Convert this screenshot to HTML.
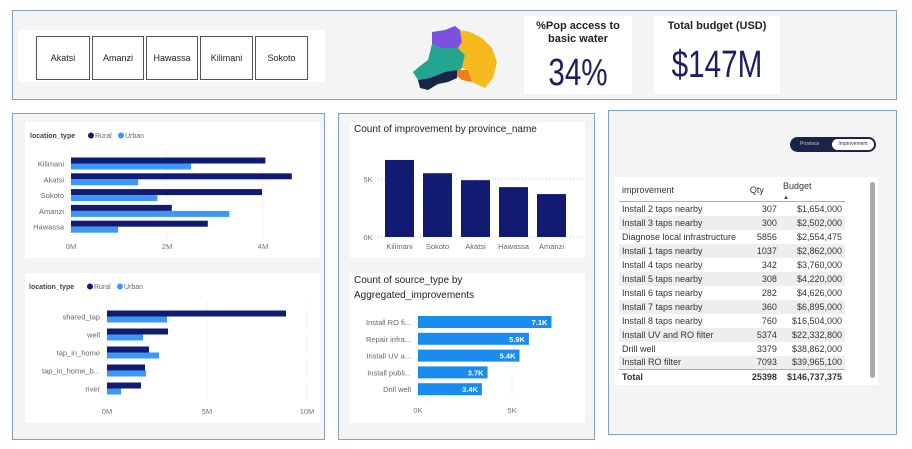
<!DOCTYPE html>
<html><head><meta charset="utf-8">
<style>
*{box-sizing:border-box;margin:0;padding:0}
body{width:912px;height:449px;background:#fff;font-family:"Liberation Sans",sans-serif;position:relative;overflow:hidden;color:#333}
.abs{position:absolute}
.panel{position:absolute;background:#f4f4f4;border:1px solid #7fa1c9}
.card{position:absolute;background:#fff}
.btn{position:absolute;top:36px;height:44px;border:1px solid #555;background:#fff;font-size:9px;display:flex;align-items:center;justify-content:center;color:#222}
.kpi{position:absolute;background:#fff;text-align:center;color:#1a1f5e}
.big{font-size:38px;font-family:"Liberation Sans",sans-serif;transform:scaleX(0.78);transform-origin:center}
table{border-collapse:collapse;font-size:9px;color:#333}
td{padding:0 3px;height:14px;white-space:nowrap}
svg text{font-family:"Liberation Sans",sans-serif}
</style></head><body>
<div class="panel" style="left:12px;top:10px;width:885px;height:90px"></div>
<div class="card" style="left:18px;top:30px;width:307px;height:52px"></div>
<div class="btn" style="left:36px;width:54px">Akatsi</div>
<div class="btn" style="left:92px;width:52px">Amanzi</div>
<div class="btn" style="left:146px;width:52px">Hawassa</div>
<div class="btn" style="left:200px;width:53px">Kilimani</div>
<div class="btn" style="left:255px;width:53px">Sokoto</div>
<svg class="abs" style="left:405px;top:20px" width="100" height="75" viewBox="0 0 100 75">
<polygon points="27,12 40,10 50,6 55,10 57,22 53,28 35,28 27,24" fill="#7b52e0"/>
<polygon points="27,24 35,28 53,28 60,35 57,48 53,52 40,52 25,58 13,60 8,52 15,46 23,40" fill="#23a58f"/>
<polygon points="55,10 65,12 77,18 87,28 92,42 88,58 80,68 67,62 63,50 57,48 60,35 53,28 57,22" fill="#f6ba1f"/>
<polygon points="52,50 63,50 67,62 57,60 52,56" fill="#f07d16"/>
<polygon points="13,60 25,58 40,52 52,50 52,58 43,62 33,64 23,70 15,68" fill="#1a2446"/>
</svg>
<div class="kpi" style="left:524px;top:16px;width:108px;height:78px">
<div style="font-size:11px;font-weight:bold;color:#222;margin-top:4px;line-height:13px">%Pop access to<br>basic water</div>
<div class="big" style="margin-top:6px">34%</div></div>
<div class="kpi" style="left:654px;top:16px;width:126px;height:78px">
<div style="font-size:11px;font-weight:bold;color:#222;margin-top:4px">Total budget (USD)</div>
<div class="big" style="margin-top:12px">$147M</div></div>

<div class="panel" style="left:12px;top:113px;width:313px;height:327px"></div>
<div class="card" style="left:25px;top:122px;width:295px;height:136px"></div>
<div class="card" style="left:25px;top:273px;width:295px;height:150px"></div>
<div class="panel" style="left:338px;top:113px;width:257px;height:327px"></div>
<div class="card" style="left:350px;top:122px;width:235px;height:136px"></div>
<div class="card" style="left:350px;top:273px;width:235px;height:150px"></div>
<div class="panel" style="left:608px;top:110px;width:289px;height:325px"></div>

<svg class="abs" id="charts" style="left:0;top:0" width="912" height="449"></svg>

<div class="abs" style="left:790px;top:137px;width:86px;height:15px;background:#1a2446;border-radius:8px">
<span class="abs" style="left:10px;top:4px;font-size:5px;color:#ccc">Province</span>
<span class="abs" style="left:42px;top:2px;width:42px;height:11px;background:#fff;border-radius:6px;font-size:5px;color:#333;text-align:center;line-height:11px">Improvement</span></div>

<div class="card" style="left:615px;top:177px;width:263px;height:208px">
<table style="position:absolute;left:4px;top:2px;width:226px">
<tr style="height:19px;border-bottom:1px solid #8fb7d6"><td>improvement</td><td>Qty</td><td style="vertical-align:top;padding-top:2px">Budget<br><span style="font-size:6px">▲</span></td></tr>
<tbody id="tbody"></tbody>
<tr style="border-top:1px solid #8fb7d6;font-weight:bold"><td>Total</td><td style="text-align:right">25398</td><td style="text-align:right">$146,737,375</td></tr>
</table>
<div class="abs" style="left:255px;top:5px;width:5px;height:196px;background:#aaa;border-radius:3px"></div>
</div>

<script>
const NS='http://www.w3.org/2000/svg';
const svg=document.getElementById('charts');
function el(t,a,txt){const e=document.createElementNS(NS,t);for(const k in a)e.setAttribute(k,a[k]);if(txt!==undefined)e.textContent=txt;svg.appendChild(e);return e;}

// Chart 1: province by location type
const provCats=['Kilimani','Akatsi','Sokoto','Amanzi','Hawassa'];
const provRural=[4.05,4.6,3.98,2.1,2.85];
const provUrban=[2.5,1.4,1.8,3.3,0.98];
const provTicks=[0,2,4];
// Chart 2: source type by location type
const srcCats=['shared_tap','well','tap_in_home','tap_in_home_b...','river'];
const srcRural=[8.95,3.05,2.1,1.9,1.7];
const srcUrban=[3.0,1.8,2.6,1.95,0.7];
const srcTicks=[0,5,10];
// Chart 3: improvements by province
const colCats=['Kilimani','Sokoto','Akatsi','Hawassa','Amanzi'];
const colVals=[6.64,5.5,4.9,4.3,3.7];
const colTicks=[0,5];
// Chart 4: source type by aggregated improvements
const aggCats=['Install RO fi...','Repair infra...','Install UV a...','Install publi...','Drill well'];
const aggVals=[7.1,5.9,5.4,3.7,3.4];
const aggTicks=[0,5];
// Table
const tblNames=['Install 2 taps nearby','Install 3 taps nearby','Diagnose local infrastructure','Install 1 taps nearby','Install 4 taps nearby','Install 5 taps nearby','Install 6 taps nearby','Install 7 taps nearby','Install 8 taps nearby','Install UV and RO filter','Drill well','Install RO filter'];
const tblQty=[307,300,5856,1037,342,308,282,360,760,5374,3379,7093];
const tblBudget=['$1,654,000','$2,502,000','$2,554,475','$2,862,000','$3,760,000','$4,220,000','$4,626,000','$6,895,000','$16,504,000','$22,332,800','$38,862,000','$39,965,100'];

const DARK='#111b72',LIGHT='#3d98f5',BLUE='#1a8cf0';

function legend(x,y){
  let t=el('text',{x:x,y:y,'font-size':7,'font-weight':'bold',fill:'#444'},'location_type');
  
  let c=el('circle',{cx:x+61,cy:y-2.5,r:3,fill:DARK});
  
  el('text',{x:x+65,y:y,'font-size':7,fill:'#666'},'Rural');
  let c2=el('circle',{cx:x+91,cy:y-2.5,r:3,fill:LIGHT});
  
  el('text',{x:x+95,y:y,'font-size':7,fill:'#666'},'Urban');
}

function groupedH(cats,r,u,ticks,x0,pxPer,y0,step,bh,tickY,gridTop,gridBot,name,lblX){
  const sx=v=>x0+v*pxPer;
  ticks.forEach(t=>{
    el('line',{x1:sx(t),x2:sx(t),y1:gridTop,y2:gridBot,stroke:'#ddd','stroke-dasharray':'1,2'});
    let tx=el('text',{x:sx(t),y:tickY,'font-size':7.5,fill:'#777','text-anchor':'middle'},t+'M');
    
  });
  cats.forEach((c,i)=>{
    const cy=y0+i*step;
    let l=el('text',{x:lblX,y:cy+3,'font-size':7.5,fill:'#666','text-anchor':'end'},c);
    
    let b=el('rect',{x:x0,y:cy-bh,width:sx(r[i])-x0,height:bh,fill:DARK});
    
    let b2=el('rect',{x:x0,y:cy,width:sx(u[i])-x0,height:bh,fill:LIGHT});
    
  });
}
legend(30,138);
groupedH(provCats,provRural,provUrban,provTicks,71,48,163.5,15.8,6,249,151,240,'province-chart',64);
legend(29,289);
groupedH(srcCats,srcRural,srcUrban,srcTicks,107,20,316.5,18,6,414,303,402,'source-chart',100);

// column chart
let t3=el('text',{x:354,y:132,'font-size':10,fill:'#222'},'Count of improvement by province_name');

const cy0=237,cpx=11.6;
colTicks.forEach(t=>{
  const y=cy0-t*cpx;
  el('line',{x1:378,x2:583,y1:y,y2:y,stroke:'#ccc','stroke-dasharray':'1,2'});
  let tx=el('text',{x:368,y:y+3,'font-size':7.5,fill:'#777','text-anchor':'middle'},t+'K');
  
});
colCats.forEach((c,i)=>{
  const x=385+i*38;
  let b=el('rect',{x:x,y:cy0-colVals[i]*cpx,width:29,height:colVals[i]*cpx,fill:DARK});
  
  let l=el('text',{x:x+14.5,y:249,'font-size':7.5,fill:'#666','text-anchor':'middle'},c);
  
});

// horizontal bar chart
let t4=el('text',{x:354,y:283,'font-size':10,fill:'#222'},'Count of source_type by');

el('text',{x:354,y:298,'font-size':10,fill:'#222'},'Aggregated_improvements');
const ax0=418,apx=18.8;
aggTicks.forEach(t=>{
  const x=ax0+t*apx;
  el('line',{x1:x,x2:x,y1:310,y2:398,stroke:'#ddd','stroke-dasharray':'1,2'});
  let tx=el('text',{x:x,y:413,'font-size':7.5,fill:'#777','text-anchor':'middle'},t+'K');
  
});
aggCats.forEach((c,i)=>{
  const cy=322+i*16.8;
  let b=el('rect',{x:ax0,y:cy-6,width:aggVals[i]*apx,height:12,fill:BLUE});
  
  el('text',{x:ax0+aggVals[i]*apx-4,y:cy+3,'font-size':7.5,'font-weight':'bold',fill:'#fff','text-anchor':'end'},aggVals[i].toFixed(1)+'K');
  let l=el('text',{x:411,y:cy+3,'font-size':7.5,fill:'#666','text-anchor':'end'},c);
  
});

// table
const tb=document.getElementById('tbody');
tblNames.forEach((n,i)=>{
  const tr=document.createElement('tr');
  
  
  if(i%2)tr.style.background='#eeeeee';
  tr.innerHTML='<td>'+n+'</td><td style="text-align:right">'+tblQty[i]+'</td><td style="text-align:right">'+tblBudget[i]+'</td>';
  tb.appendChild(tr);
});
</script>
</body></html>
